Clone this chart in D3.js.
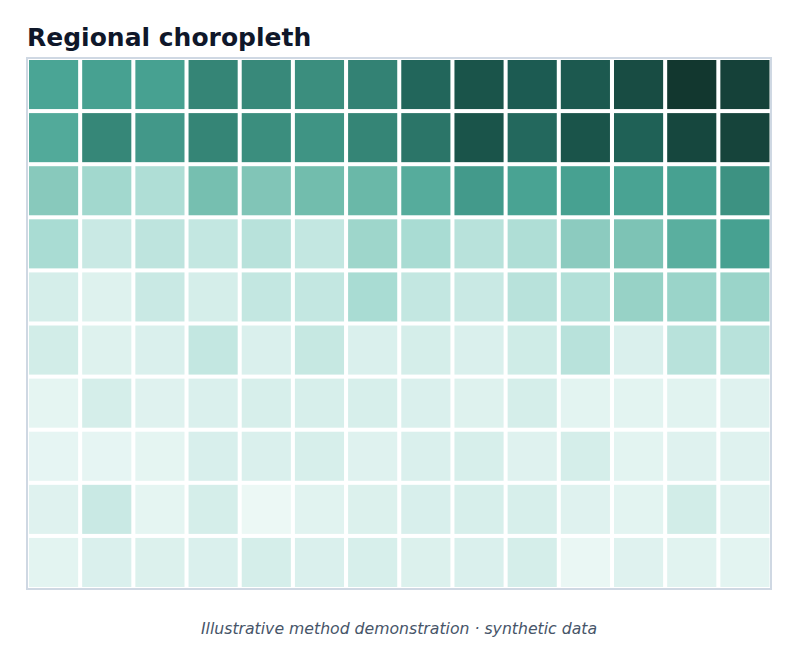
<!DOCTYPE html>
<html lang="en">
  <head>
    <meta charset="UTF-8" />
    <title>Regional choropleth</title>
    <script src="https://d3js.org/d3.v7.min.js"></script>
    <style>
      body {
        margin: 0;
        background: #fff;
        font-family: "DejaVu Sans", sans-serif;
      }
    </style>
  </head>
  <body>
    <svg id="chart" width="798" height="663"></svg>
    <script>
      // columns / rows of the grid (regions)
      const cols = d3.range(14).map((i) => "C" + (i + 1));
      const rows = d3.range(10).map((i) => "R" + (i + 1));

      // intensity per cell, row by row, 0..1
      const row1 = [0.55, 0.57, 0.57, 0.70, 0.68, 0.66, 0.71, 0.82, 0.89, 0.86, 0.87, 0.92, 1.0, 0.96];
      const row2 = [0.53, 0.69, 0.61, 0.70, 0.66, 0.63, 0.70, 0.76, 0.89, 0.81, 0.89, 0.84, 0.94, 0.95];
      const row3 = [0.39, 0.32, 0.28, 0.44, 0.41, 0.45, 0.47, 0.52, 0.60, 0.56, 0.57, 0.56, 0.57, 0.64];
      const row4 = [0.30, 0.19, 0.23, 0.21, 0.25, 0.21, 0.33, 0.30, 0.25, 0.28, 0.38, 0.42, 0.51, 0.57];
      const row5 = [0.15, 0.10, 0.19, 0.15, 0.21, 0.21, 0.30, 0.21, 0.19, 0.25, 0.27, 0.35, 0.34, 0.34];
      const row6 = [0.16, 0.10, 0.12, 0.21, 0.12, 0.20, 0.12, 0.15, 0.12, 0.17, 0.25, 0.12, 0.25, 0.25];
      const row7 = [0.06, 0.15, 0.09, 0.12, 0.14, 0.14, 0.14, 0.12, 0.10, 0.15, 0.07, 0.07, 0.08, 0.09];
      const row8 = [0.05, 0.05, 0.06, 0.13, 0.12, 0.14, 0.09, 0.12, 0.14, 0.09, 0.15, 0.07, 0.09, 0.09];
      const row9 = [0.09, 0.19, 0.06, 0.15, 0.02, 0.08, 0.11, 0.13, 0.14, 0.14, 0.09, 0.07, 0.16, 0.09];
      const row10 = [0.07, 0.12, 0.11, 0.12, 0.15, 0.12, 0.14, 0.11, 0.12, 0.15, 0.03, 0.09, 0.08, 0.07];
      const values = [row1, row2, row3, row4, row5, row6, row7, row8, row9, row10];

      const svg = d3.select("#chart");

      const color = d3
        .scaleLinear()
        .domain([0, 0.15, 0.3, 0.45, 0.55, 0.7, 0.85, 1])
        .range(["#eff9f7", "#d5eeea", "#a9dcd3", "#72bdad", "#4aa595", "#358576", "#1d5e54", "#12372f"])
        .clamp(true);

      const x = d3.scaleBand().domain(cols).range([29, 769.5]).paddingInner(0.076);
      const y = d3.scaleBand().domain(rows).range([60, 587]).paddingInner(0.076);

      svg
        .append("text")
        .attr("x", 27)
        .attr("y", 46)
        .attr("font-size", 25)
        .attr("font-weight", "bold")
        .attr("fill", "#0f172a")
        .text("Regional choropleth");

      // frame
      svg
        .append("rect")
        .attr("x", 27)
        .attr("y", 58)
        .attr("width", 744)
        .attr("height", 531)
        .attr("fill", "none")
        .attr("stroke", "#cfd8e3")
        .attr("stroke-width", 2);

      const cells = [];
      values.forEach((r, ri) => r.forEach((v, ci) => cells.push({ row: rows[ri], col: cols[ci], v })));

      svg
        .append("g")
        .selectAll("rect")
        .data(cells)
        .enter()
        .append("rect")
        .attr("x", (d) => x(d.col))
        .attr("y", (d) => y(d.row))
        .attr("width", x.bandwidth())
        .attr("height", y.bandwidth())
        .attr("fill", (d) => color(d.v));

      svg
        .append("text")
        .attr("x", 399)
        .attr("y", 634)
        .attr("text-anchor", "middle")
        .attr("font-size", 15.7)
        .attr("font-style", "italic")
        .attr("fill", "#475569")
        .text("Illustrative method demonstration · synthetic data");
    </script>
  </body>
</html>
